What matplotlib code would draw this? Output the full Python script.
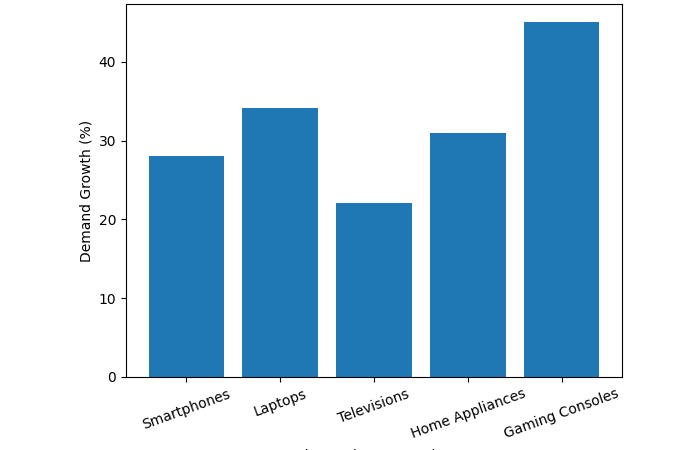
import matplotlib
matplotlib.use("Agg")
import matplotlib.pyplot as plt

categories = ["Smartphones", "Laptops", "Televisions", "Home Appliances", "Gaming Consoles"]
growth = [28, 34.2, 22.1, 31, 45.1]

fig = plt.figure(figsize=(7, 4.5), dpi=100)
ax = fig.add_axes([126 / 700, 1 - 377 / 450, 496 / 700, 373 / 450])
ax.bar(categories, growth, color="#1f77b4")
ax.set_ylabel("Demand Growth (%)")
# the reference only shows the very top of this label at the bottom edge
ax.set_xlabel("Electronics Categories", labelpad=5.8)
plt.setp(ax.get_xticklabels(), rotation=20)

fig.savefig("out.png", dpi=100)
